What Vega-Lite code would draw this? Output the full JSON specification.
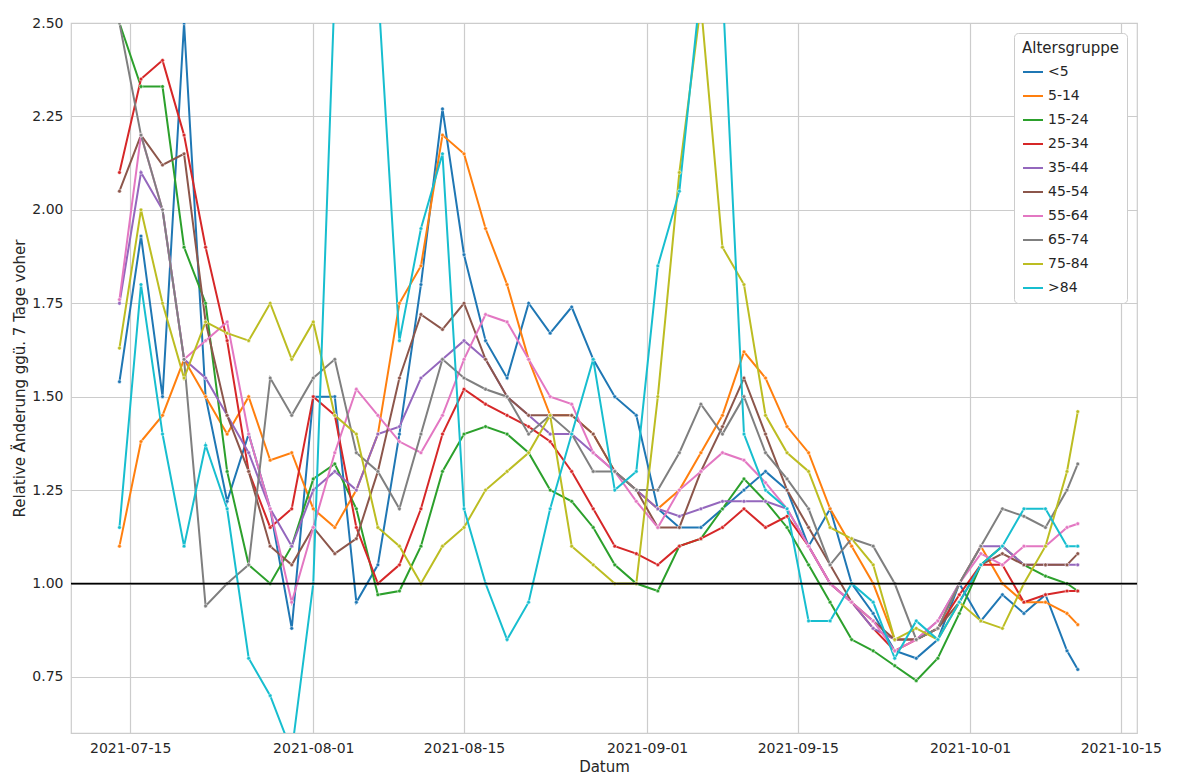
{
"$schema":"https://vega.github.io/schema/vega-lite/v6.json",
"width":1200,"height":782,"autosize":{"type":"fit","contains":"padding"},
"padding":{"left":12,"right":40,"top":16,"bottom":8},
"background":"white",
"config":{"font":"DejaVu Sans","view":{"stroke":"#cccccc","strokeWidth":1.2},
"axis":{"gridColor":"#cccccc","gridWidth":1.2,"domain":false,"ticks":false,"labelFontSize":14,"titleFontSize":15,"labelColor":"#262626","titleColor":"#262626","titleFontWeight":"normal","labelPadding":8}},
"datasets":{"d":[
{"date":"2021-07-14","<5":1.54,"5-14":1.1,"15-24":2.5,"25-34":2.1,"35-44":1.75,"45-54":2.05,"55-64":1.76,"65-74":2.5,"75-84":1.63,">84":1.15},
{"date":"2021-07-16","<5":1.93,"5-14":1.38,"15-24":2.33,"25-34":2.35,"35-44":2.1,"45-54":2.2,"55-64":2.2,"65-74":2.2,"75-84":2.0,">84":1.8},
{"date":"2021-07-18","<5":1.5,"5-14":1.45,"15-24":2.33,"25-34":2.4,"35-44":2.0,"45-54":2.12,"55-64":2.0,"65-74":2.0,"75-84":1.75,">84":1.4},
{"date":"2021-07-20","<5":2.5,"5-14":1.6,"15-24":1.9,"25-34":2.2,"35-44":1.6,"45-54":2.15,"55-64":1.6,"65-74":1.6,"75-84":1.55,">84":1.1},
{"date":"2021-07-22","<5":1.5,"5-14":1.5,"15-24":1.75,"25-34":1.9,"35-44":1.55,"45-54":1.7,"55-64":1.65,"65-74":0.94,"75-84":1.7,">84":1.37},
{"date":"2021-07-24","<5":1.22,"5-14":1.4,"15-24":1.3,"25-34":1.65,"35-44":1.45,"45-54":1.45,"55-64":1.7,"65-74":1.0,"75-84":1.67,">84":1.2},
{"date":"2021-07-26","<5":1.4,"5-14":1.5,"15-24":1.05,"25-34":1.3,"35-44":1.35,"45-54":1.3,"55-64":1.4,"65-74":1.05,"75-84":1.65,">84":0.8},
{"date":"2021-07-28","<5":1.2,"5-14":1.33,"15-24":1.0,"25-34":1.15,"35-44":1.2,"45-54":1.1,"55-64":1.2,"65-74":1.55,"75-84":1.75,">84":0.7},
{"date":"2021-07-30","<5":0.88,"5-14":1.35,"15-24":1.1,"25-34":1.2,"35-44":1.1,"45-54":1.05,"55-64":0.95,"65-74":1.45,"75-84":1.6,">84":0.55},
{"date":"2021-08-01","<5":1.5,"5-14":1.2,"15-24":1.28,"25-34":1.5,"35-44":1.25,"45-54":1.15,"55-64":1.15,"65-74":1.55,"75-84":1.7,">84":1.0},
{"date":"2021-08-03","<5":1.5,"5-14":1.15,"15-24":1.32,"25-34":1.45,"35-44":1.3,"45-54":1.08,"55-64":1.35,"65-74":1.6,"75-84":1.45,">84":2.6},
{"date":"2021-08-05","<5":0.95,"5-14":1.25,"15-24":1.2,"25-34":1.15,"35-44":1.25,"45-54":1.12,"55-64":1.52,"65-74":1.35,"75-84":1.4,">84":2.6},
{"date":"2021-08-07","<5":1.05,"5-14":1.4,"15-24":0.97,"25-34":1.0,"35-44":1.4,"45-54":1.3,"55-64":1.45,"65-74":1.3,"75-84":1.15,">84":2.6},
{"date":"2021-08-09","<5":1.4,"5-14":1.75,"15-24":0.98,"25-34":1.05,"35-44":1.42,"45-54":1.55,"55-64":1.38,"65-74":1.2,"75-84":1.1,">84":1.65},
{"date":"2021-08-11","<5":1.8,"5-14":1.85,"15-24":1.1,"25-34":1.2,"35-44":1.55,"45-54":1.72,"55-64":1.35,"65-74":1.4,"75-84":1.0,">84":1.95},
{"date":"2021-08-13","<5":2.27,"5-14":2.2,"15-24":1.3,"25-34":1.4,"35-44":1.6,"45-54":1.68,"55-64":1.45,"65-74":1.6,"75-84":1.1,">84":2.15},
{"date":"2021-08-15","<5":1.88,"5-14":2.15,"15-24":1.4,"25-34":1.52,"35-44":1.65,"45-54":1.75,"55-64":1.6,"65-74":1.55,"75-84":1.15,">84":1.2},
{"date":"2021-08-17","<5":1.65,"5-14":1.95,"15-24":1.42,"25-34":1.48,"35-44":1.6,"45-54":1.6,"55-64":1.72,"65-74":1.52,"75-84":1.25,">84":1.0},
{"date":"2021-08-19","<5":1.55,"5-14":1.8,"15-24":1.4,"25-34":1.45,"35-44":1.5,"45-54":1.5,"55-64":1.7,"65-74":1.5,"75-84":1.3,">84":0.85},
{"date":"2021-08-21","<5":1.75,"5-14":1.6,"15-24":1.35,"25-34":1.42,"35-44":1.45,"45-54":1.45,"55-64":1.6,"65-74":1.4,"75-84":1.35,">84":0.95},
{"date":"2021-08-23","<5":1.67,"5-14":1.45,"15-24":1.25,"25-34":1.38,"35-44":1.4,"45-54":1.45,"55-64":1.5,"65-74":1.45,"75-84":1.45,">84":1.2},
{"date":"2021-08-25","<5":1.74,"5-14":1.45,"15-24":1.22,"25-34":1.3,"35-44":1.4,"45-54":1.45,"55-64":1.48,"65-74":1.4,"75-84":1.1,">84":1.4},
{"date":"2021-08-27","<5":1.6,"5-14":1.4,"15-24":1.15,"25-34":1.2,"35-44":1.35,"45-54":1.4,"55-64":1.35,"65-74":1.3,"75-84":1.05,">84":1.6},
{"date":"2021-08-29","<5":1.5,"5-14":1.3,"15-24":1.05,"25-34":1.1,"35-44":1.3,"45-54":1.3,"55-64":1.3,"65-74":1.3,"75-84":1.0,">84":1.25},
{"date":"2021-08-31","<5":1.45,"5-14":1.25,"15-24":1.0,"25-34":1.08,"35-44":1.25,"45-54":1.25,"55-64":1.22,"65-74":1.25,"75-84":1.0,">84":1.3},
{"date":"2021-09-02","<5":1.2,"5-14":1.2,"15-24":0.98,"25-34":1.05,"35-44":1.2,"45-54":1.15,"55-64":1.15,"65-74":1.25,"75-84":1.5,">84":1.85},
{"date":"2021-09-04","<5":1.15,"5-14":1.25,"15-24":1.1,"25-34":1.1,"35-44":1.18,"45-54":1.15,"55-64":1.25,"65-74":1.35,"75-84":2.1,">84":2.05},
{"date":"2021-09-06","<5":1.15,"5-14":1.35,"15-24":1.12,"25-34":1.12,"35-44":1.2,"45-54":1.3,"55-64":1.3,"65-74":1.48,"75-84":2.55,">84":2.6},
{"date":"2021-09-08","<5":1.2,"5-14":1.45,"15-24":1.2,"25-34":1.15,"35-44":1.22,"45-54":1.42,"55-64":1.35,"65-74":1.4,"75-84":1.9,">84":2.6},
{"date":"2021-09-10","<5":1.25,"5-14":1.62,"15-24":1.28,"25-34":1.2,"35-44":1.22,"45-54":1.55,"55-64":1.33,"65-74":1.5,"75-84":1.8,">84":1.4},
{"date":"2021-09-12","<5":1.3,"5-14":1.55,"15-24":1.22,"25-34":1.15,"35-44":1.22,"45-54":1.4,"55-64":1.27,"65-74":1.35,"75-84":1.45,">84":1.25},
{"date":"2021-09-14","<5":1.25,"5-14":1.42,"15-24":1.15,"25-34":1.18,"35-44":1.2,"45-54":1.25,"55-64":1.2,"65-74":1.28,"75-84":1.35,">84":1.2},
{"date":"2021-09-16","<5":1.1,"5-14":1.35,"15-24":1.05,"25-34":1.1,"35-44":1.1,"45-54":1.15,"55-64":1.1,"65-74":1.2,"75-84":1.3,">84":0.9},
{"date":"2021-09-18","<5":1.2,"5-14":1.2,"15-24":0.95,"25-34":1.0,"35-44":1.0,"45-54":1.05,"55-64":1.0,"65-74":1.05,"75-84":1.15,">84":0.9},
{"date":"2021-09-20","<5":1.0,"5-14":1.1,"15-24":0.85,"25-34":0.95,"35-44":0.95,"45-54":0.95,"55-64":0.95,"65-74":1.12,"75-84":1.12,">84":1.0},
{"date":"2021-09-22","<5":0.92,"5-14":1.0,"15-24":0.82,"25-34":0.88,"35-44":0.88,"45-54":0.9,"55-64":0.9,"65-74":1.1,"75-84":1.05,">84":0.95},
{"date":"2021-09-24","<5":0.82,"5-14":0.85,"15-24":0.78,"25-34":0.82,"35-44":0.85,"45-54":0.85,"55-64":0.82,"65-74":1.0,"75-84":0.85,">84":0.8},
{"date":"2021-09-26","<5":0.8,"5-14":0.85,"15-24":0.74,"25-34":0.85,"35-44":0.85,"45-54":0.85,"55-64":0.85,"65-74":0.85,"75-84":0.88,">84":0.9},
{"date":"2021-09-28","<5":0.85,"5-14":0.88,"15-24":0.8,"25-34":0.88,"35-44":0.9,"45-54":0.88,"55-64":0.9,"65-74":0.88,"75-84":0.85,">84":0.85},
{"date":"2021-09-30","<5":1.0,"5-14":1.0,"15-24":0.92,"25-34":0.97,"35-44":1.0,"45-54":0.95,"55-64":1.0,"65-74":1.0,"75-84":0.95,">84":0.95},
{"date":"2021-10-02","<5":0.9,"5-14":1.1,"15-24":1.05,"25-34":1.05,"35-44":1.1,"45-54":1.05,"55-64":1.08,"65-74":1.1,"75-84":0.9,">84":1.05},
{"date":"2021-10-04","<5":0.97,"5-14":1.0,"15-24":1.1,"25-34":1.05,"35-44":1.1,"45-54":1.08,"55-64":1.05,"65-74":1.2,"75-84":0.88,">84":1.1},
{"date":"2021-10-06","<5":0.92,"5-14":0.95,"15-24":1.05,"25-34":0.95,"35-44":1.05,"45-54":1.05,"55-64":1.1,"65-74":1.18,"75-84":1.0,">84":1.2},
{"date":"2021-10-08","<5":0.97,"5-14":0.95,"15-24":1.02,"25-34":0.97,"35-44":1.05,"45-54":1.05,"55-64":1.1,"65-74":1.15,"75-84":1.1,">84":1.2},
{"date":"2021-10-10","<5":0.82,"5-14":0.92,"15-24":1.0,"25-34":0.98,"35-44":1.05,"45-54":1.05,"55-64":1.15,"65-74":1.25,"75-84":1.3,">84":1.1},
{"date":"2021-10-11","<5":0.77,"5-14":0.89,"15-24":0.98,"25-34":0.98,"35-44":1.05,"45-54":1.08,"55-64":1.16,"65-74":1.32,"75-84":1.46,">84":1.1}
],"r":[{"y":1}]},
"layer":[
{"data":{"name":"d"},
"transform":[{"fold":["<5","5-14","15-24","25-34","35-44","45-54","55-64","65-74","75-84",">84"],"as":["Altersgruppe","v"]}],
"mark":{"type":"line","clip":true,"strokeWidth":2,"point":{"filled":true,"size":14,"stroke":"white","strokeWidth":0.5}},
"encoding":{
"x":{"field":"date","type":"temporal","title":"Datum","scale":{"type":"utc","domain":[{"year":2021,"month":7,"date":9,"hours":12,"utc":true},{"year":2021,"month":10,"date":16,"hours":12,"utc":true}]},
"axis":{"labelExpr":"utcFormat(datum.value, '%Y-%m-%d')","labelAngle":0,"values":[{"year":2021,"month":7,"date":15,"utc":true},{"year":2021,"month":8,"date":1,"utc":true},{"year":2021,"month":8,"date":15,"utc":true},{"year":2021,"month":9,"date":1,"utc":true},{"year":2021,"month":9,"date":15,"utc":true},{"year":2021,"month":10,"date":1,"utc":true},{"year":2021,"month":10,"date":15,"utc":true}]}},
"y":{"field":"v","type":"quantitative","title":"Relative Änderung ggü. 7 Tage voher","scale":{"domain":[0.6,2.5],"nice":false,"zero":false},"axis":{"values":[0.75,1.0,1.25,1.5,1.75,2.0,2.25,2.5],"format":".2f"}},
"color":{"field":"Altersgruppe","type":"nominal","sort":null,
"scale":{"domain":["<5","5-14","15-24","25-34","35-44","45-54","55-64","65-74","75-84",">84"],"range":["#1f77b4","#ff7f0e","#2ca02c","#d62728","#9467bd","#8c564b","#e377c2","#7f7f7f","#bcbd22","#17becf"]},
"legend":{"orient":"top-right","offset":10,"fillColor":"white","strokeColor":"#cccccc","padding":8,"cornerRadius":4,"titleFontSize":15,"titleFontWeight":"normal","labelFontSize":14,"symbolType":"stroke","symbolStrokeWidth":2,"symbolSize":400,"rowPadding":6,"titleColor":"#262626","labelColor":"#262626"}}}},
{"data":{"name":"r"},"mark":{"type":"rule","color":"black","strokeWidth":1.8},"encoding":{"y":{"field":"y","type":"quantitative"}}}
]}
